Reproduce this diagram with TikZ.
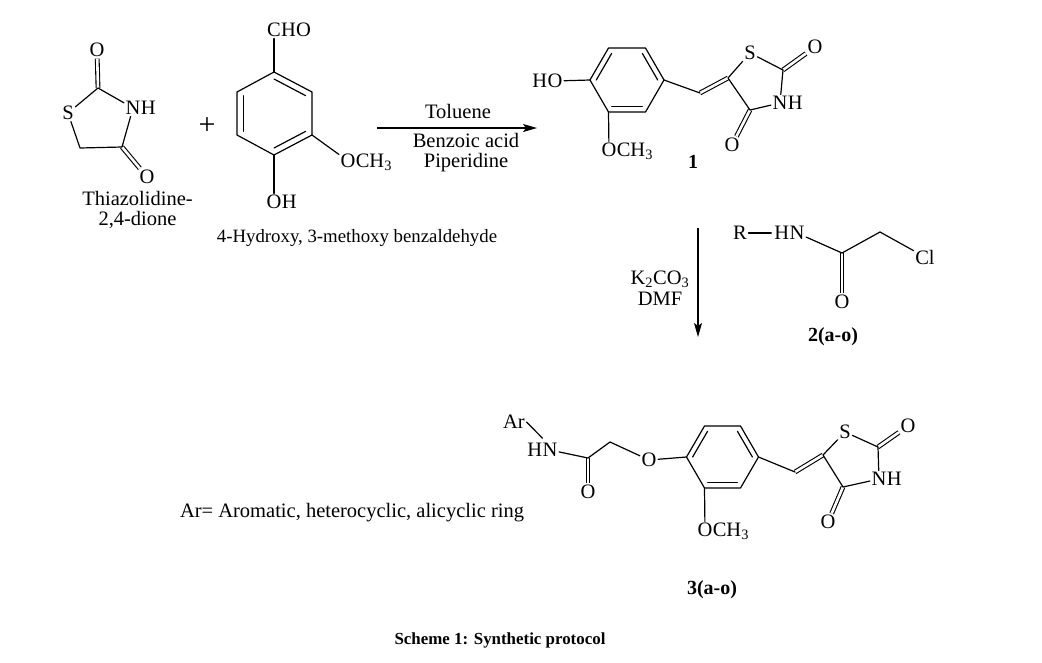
\documentclass[tikz,border=0pt]{standalone}
\usepackage{fontspec}
\setmainfont{Liberation Serif}
\usetikzlibrary{calc,arrows.meta}
\tikzset{
  bond/.style={line width=1.2pt, line cap=round, line join=round},
  dbl/.style={line width=1.1pt, double, double distance=2.6pt},
  atom/.style={inner sep=1.5pt, font=\fontsize{20.5}{24}\selectfont},
  atomr/.style={inner sep=0pt, anchor=base west, font=\fontsize{20.5}{24}\selectfont},
  atoml/.style={inner sep=0pt, anchor=base east, font=\fontsize{20.5}{24}\selectfont},
  txt/.style={inner sep=0pt, font=\fontsize{20.5}{24}\selectfont},
  txt2/.style={inner sep=0pt, align=center, font=\fontsize{20.5}{20}\selectfont},
  smalltxt/.style={inner sep=0pt, font=\fontsize{18.8}{22}\selectfont},
  cmpd/.style={inner sep=0pt, font=\bfseries\fontsize{20}{24}\selectfont},
  arr/.style={line width=1.1pt, -{Stealth[length=14pt,width=8pt,inset=3pt]}},
}
\newcommand{\inb}[3]{\draw[bond] ($(#1)!0.17!(#3)$) -- ($(#2)!0.17!(#3)$);}
\begin{document}
\begin{tikzpicture}[x=1pt,y=-1pt]
\useasboundingbox[fill=white] (0,0) rectangle (1042,662);

% ---------- Thiazolidine-2,4-dione ----------
\coordinate (t2) at (98,88);
\coordinate (t4) at (122,147);
\coordinate (t5) at (80,148);
\node[atom] (to2) at (97,50) {O};
\node[atom] (ts) at (68,113) {S};
\node[atom] (tn) at (133,108) {N};
\node[atomr] (tnh) at ([xshift=-1.5pt]tn.base east) {H};
\node[atom] (to4) at (147,177) {O};
\draw[dbl] (t2) -- (to2);
\draw[dbl] (t4) -- (to4);
\draw[bond] (ts) -- (t2) -- (tn) -- (t4) -- (t5) -- (ts);
\node[txt2] (tname) at (137.5,210) {Thiazolidine-\\2,4-dione};

\node[inner sep=0pt, font=\fontsize{30}{30}\selectfont] (plus) at (207,126) {+};

% ---------- 4-hydroxy-3-methoxybenzaldehyde ----------
\coordinate (a1) at (274,72);
\coordinate (a2) at (312,92);
\coordinate (a3) at (312,135);
\coordinate (a4) at (274,155);
\coordinate (a5) at (237,135);
\coordinate (a6) at (237,92);
\coordinate (ac) at (274.5,113.5);
\draw[bond] (a1) -- (a2) -- (a3) -- (a4) -- (a5) -- (a6) -- cycle;
\inb{a6}{a5}{ac}
\inb{a1}{a2}{ac}
\inb{a3}{a4}{ac}
\node[atom] (acc) at (274,30) {C};
\node[atomr] (acho) at ([xshift=-1.5pt]acc.base east) {HO};
\draw[bond] (a1) -- (acc);
\node[atom] (aoh) at (274,202) {O};
\node[atomr] (aohh) at ([xshift=-1.5pt]aoh.base east) {H};
\draw[bond] (a4) -- (aoh);
\node[atom] (aom) at (348,161) {O};
\node[atomr] (aomc) at ([xshift=-1.5pt]aom.base east) {CH\textsubscript{3}};
\draw[bond] (a3) -- (aom);
\node[smalltxt] (aname) at (357,238) {4-Hydroxy, 3-methoxy benzaldehyde};

% ---------- arrow 1 ----------
\coordinate (r1s) at (377,128);
\coordinate (r1e) at (537,128);
\draw[arr] (r1s) -- (r1e);
\node[txt] (tol) at (458,111) {Toluene};
\node[txt2] (cond) at (466,153) {Benzoic acid\\Piperidine};

% ---------- compound 1 ----------
\coordinate (b1) at (608.5,48);
\coordinate (b2) at (645.5,48);
\coordinate (b3) at (664,80);
\coordinate (b4) at (645.5,112);
\coordinate (b5) at (608.5,112);
\coordinate (b6) at (590,80);
\coordinate (bc) at (627,80);
\draw[bond] (b1) -- (b2) -- (b3) -- (b4) -- (b5) -- (b6) -- cycle;
\inb{b6}{b1}{bc}
\inb{b2}{b3}{bc}
\inb{b4}{b5}{bc}
\node[atom] (bo) at (555,81) {O};
\node[atoml] (boh) at ([xshift=1.5pt]bo.base west) {H};
\draw[bond] (b6) -- (bo);
\node[atom] (bom) at (609,150) {O};
\node[atomr] (bomc) at ([xshift=-1.5pt]bom.base east) {CH\textsubscript{3}};
\draw[bond] (b5) -- (bom);
\coordinate (c7) at (700,93);
\coordinate (c5) at (728,78);
\coordinate (c2) at (783,70);
\coordinate (c4) at (750,110);
\node[atom] (cs) at (750,53) {S};
\node[atom] (co2) at (815,47) {O};
\node[atom] (cn) at (780,103) {N};
\node[atomr] (cnh) at ([xshift=-1.5pt]cn.base east) {H};
\node[atom] (co4) at (732,145) {O};
\draw[dbl] (c7) -- (c5);
\draw[dbl] (c2) -- (co2);
\draw[dbl] (c4) -- (co4);
\draw[bond] (b3) -- (c7);
\draw[bond] (c5) -- (cs) -- (c2) -- (cn) -- (c4) -- (c5);
\node[cmpd] (lab1) at (693,162) {1};

% ---------- arrow 2 ----------
\coordinate (r2s) at (698,228);
\coordinate (r2e) at (698,337);
\draw[arr] (r2s) -- (r2e);
\node[inner sep=0pt, align=center, font=\fontsize{20.5}{21.5}\selectfont] (reag) at (660,288) {K\textsubscript{2}CO\textsubscript{3}\\DMF};

% ---------- reagent 2 ----------
\node[atom] (dr) at (740,233) {R};
\node[atom] (dn) at (797,233) {N};
\node[atoml] (dnh) at ([xshift=1.5pt]dn.base west) {H};
\draw[bond] (dr) -- ([xshift=-3pt]dnh.west);
\coordinate (d1) at (842,253);
\coordinate (d2) at (880,232);
\node[atom] (dcl) at (925,257) {Cl};
\node[atom] (do) at (842,302) {O};
\draw[dbl] (d1) -- (do);
\draw[bond] (dn) -- (d1) -- (d2) -- (dcl);
\node[cmpd] (lab2) at (833,337) {2(a-o)};

% ---------- compound 3 ----------
\node[atom] (ear) at (514,422) {Ar};
\node[atom] (en) at (550,450) {N};
\node[atoml] (enh) at ([xshift=1.5pt]en.base west) {H};
\coordinate (earb) at ([yshift=5pt]enh.north east);
\draw[bond] (ear.east) -- (earb);
\coordinate (e1) at (588,458);
\coordinate (e2) at (610,442);
\node[atom] (eo1) at (588,492) {O};
\node[atom] (eo) at (649,460) {O};
\draw[dbl] (e1) -- (eo1);
\draw[bond] (en) -- (e1) -- (e2) -- (eo);
\coordinate (f1) at (686.5,457);
\coordinate (f2) at (704.5,426);
\coordinate (f3) at (740.5,426);
\coordinate (f4) at (758.5,457);
\coordinate (f5) at (740.5,488);
\coordinate (f6) at (704.5,488);
\coordinate (fc) at (722.5,457);
\draw[bond] (eo) -- (f1);
\draw[bond] (f1) -- (f2) -- (f3) -- (f4) -- (f5) -- (f6) -- cycle;
\inb{f1}{f2}{fc}
\inb{f3}{f4}{fc}
\inb{f5}{f6}{fc}
\node[atom] (fom) at (705,530) {O};
\node[atomr] (fomc) at ([xshift=-1.5pt]fom.base east) {CH\textsubscript{3}};
\draw[bond] (f6) -- (fom);
\coordinate (g1) at (795,472);
\coordinate (g2) at (823,455);
\coordinate (h2) at (878,447);
\coordinate (h4) at (843,487);
\node[atom] (hs) at (845,432) {S};
\node[atom] (ho2) at (908,426) {O};
\node[atom] (hn) at (879,479) {N};
\node[atomr] (hnh) at ([xshift=-1.5pt]hn.base east) {H};
\node[atom] (ho4) at (828,522) {O};
\draw[dbl] (g1) -- (g2);
\draw[dbl] (h2) -- (ho2);
\draw[dbl] (h4) -- (ho4);
\draw[bond] (f4) -- (g1);
\draw[bond] (g2) -- (hs) -- (h2) -- (hn) -- (h4) -- (g2);
\node[cmpd] (lab3) at (712,590) {3(a-o)};

\node[txt] (arnote) at (352,513) {Ar= Aromatic, heterocyclic, alicyclic ring};
\node[inner sep=0pt, font=\bfseries\fontsize{16.9}{20}\selectfont] (caption) at (500,640) {Scheme 1: Synthetic protocol};
\end{tikzpicture}
\end{document}
